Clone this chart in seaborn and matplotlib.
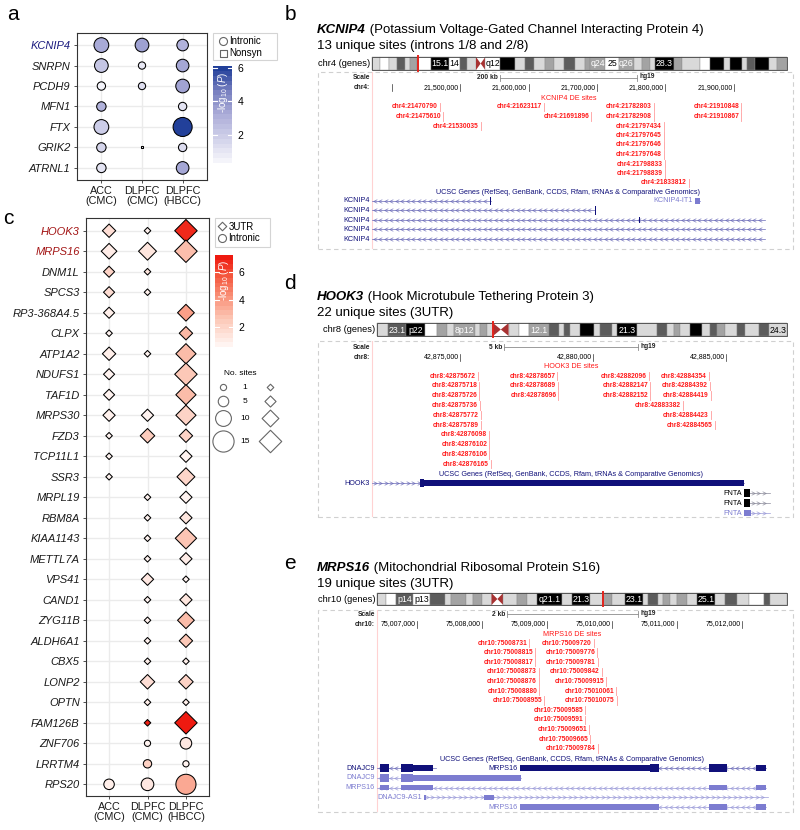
import numpy as np
import pandas as pd
import seaborn as sns
import matplotlib.pyplot as plt
from matplotlib.colors import LinearSegmentedColormap, Normalize
from matplotlib.cm import ScalarMappable
from matplotlib.patches import Rectangle, Polygon
from matplotlib.path import Path

plt.rcParams["font.family"] = ["Liberation Sans", "DejaVu Sans"]
plt.rcParams["mathtext.fontset"] = "custom"
plt.rcParams["mathtext.rm"] = "Liberation Sans"
plt.rcParams["mathtext.it"] = "Liberation Sans:italic"

nan = np.nan
W, H = 800, 830

tissues = ["ACC\n(CMC)", "DLPFC\n(CMC)", "DLPFC\n(HBCC)"]

# ---- a: intronic / nonsynonymous DE genes (No. sites, -log10 P per dataset)
a_genes = ["KCNIP4", "SNRPN", "PCDH9", "MFN1", "FTX", "GRIK2", "ATRNL1"]
a_n_acc = [9, 8, 3, 4, 9, 4, 4]
a_n_cmc = [8, 2, 2, nan, nan, 1, nan]
a_n_hbcc = [6, 7, 8, 3, 13, 3, 7]
a_p_acc = [3.3, 2.2, 0.35, 3.0, 1.9, 1.6, 1.0]
a_p_cmc = [3.6, 0.8, 1.2, nan, nan, 1.0, nan]
a_p_hbcc = [3.0, 3.4, 3.5, 1.0, 6.1, 1.3, 3.4]
a_nonsyn = [("GRIK2", 1)]
a_highlight = ["KCNIP4"]

# ---- c: 3'UTR / intronic DE genes
c_genes = ["HOOK3", "MRPS16", "DNM1L", "SPCS3", "RP3-368A4.5", "CLPX", "ATP1A2",
           "NDUFS1", "TAF1D", "MRPS30", "FZD3", "TCP11L1", "SSR3", "MRPL19", "RBM8A",
           "KIAA1143", "METTL7A", "VPS41", "CAND1", "ZYG11B", "ALDH6A1", "CBX5",
           "LONP2", "OPTN", "FAM126B", "ZNF706", "LRRTM4", "RPS20"]
c_n_acc = [7, 9, 5, 5, 5, 1, 7, 5, 5, 6, 1, 1, 1, nan, nan, nan, nan, nan, nan, nan,
           nan, nan, nan, nan, nan, nan, nan, 5]
c_n_cmc = [1, 11, 1, 1, nan, nan, 1, nan, nan, 6, 8, nan, nan, 1, 1, 1, 1, 6, 1, 1,
           1, 1, 8, 1, 1, 1, 3, 7]
c_n_hbcc = [15, 15, nan, nan, 10, 7, 13, 15, 13, 13, 7, 6, 11, 6, 6, 14, 6, 1, 6, 10,
            7, 1, 8, 1, 15, 6, 1, 14]
c_p_acc = [1.5, 0.9, 2.0, 1.6, 0.8, 0.6, 0.8, 0.6, 0.6, 0.7, 0.6, 0.55, 0.55, nan,
           nan, nan, nan, nan, nan, nan, nan, nan, nan, nan, nan, nan, nan, 0.8]
c_p_cmc = [0.7, 1.2, 1.2, 0.7, nan, nan, 0.6, nan, nan, 0.6, 2.3, nan, nan, 0.6, 0.6,
           0.6, 0.6, 1.1, 0.6, 0.7, 0.7, 0.8, 1.5, 0.8, 7.1, 0.6, 2.1, 1.1]
c_p_hbcc = [6.9, 2.8, nan, nan, 3.8, 3.0, 2.9, 2.5, 2.9, 2.0, 2.0, 0.6, 1.9, 0.6, 1.2,
            2.6, 0.9, 0.6, 1.2, 2.9, 2.5, 0.8, 2.0, 0.8, 7.24, 1.1, 0.6, 3.5]
c_intronic = ["ZNF706", "LRRTM4", "RPS20"]
c_highlight = ["HOOK3", "MRPS16"]
size_keys = [1, 5, 10, 15]

# ---- b, d, e: DE sites in UCSC browser views (hg19)
b_sites = [21470790, 21475610, 21530035, 21623117, 21691896, 21782803, 21782908,
           21797434, 21797645, 21797646, 21797648, 21798833, 21798839, 21833812,
           21910848, 21910867]
d_sites = [42875672, 42875718, 42875726, 42875736, 42875772, 42875789, 42876098,
           42876102, 42876106, 42876165, 42878657, 42878689, 42878696, 42882096,
           42882147, 42882152, 42883382, 42884354, 42884392, 42884419, 42884423,
           42884565]
e_sites = [75008731, 75008815, 75008817, 75008873, 75008876, 75008880, 75008955,
           75009585, 75009591, 75009651, 75009665, 75009720, 75009776, 75009781,
           75009784, 75009842, 75009915, 75010061, 75010075]

b_view = ("chr4", 21371500, 21945300)
d_view = ("chr8", 42871690, 42886650)
e_view = ("chr10", 75006385, 75012400)
b_scale_kb, d_scale_kb, e_scale_kb = 200, 5, 2
b_tick, d_tick, e_tick = 100000, 5000, 1000

# gene tracks: (row, name, kind, strand, start, end, blocks[(start, end, c=coding/u=utr)])
b_tracks = [
    (0, "KCNIP4", "main", "-", 20730234, 21545000, [(21544300, 21545000, "c")]),
    (0, "KCNIP4-IT1", "alt", "+", 21843000, 21850500, [(21843000, 21850500, "u")]),
    (1, "KCNIP4", "main", "-", 20730234, 21697700, [(21697000, 21697700, "c")]),
    (2, "KCNIP4", "main", "-", 20730234, 21950300, [(21761600, 21762300, "u")]),
    (3, "KCNIP4", "main", "-", 20730234, 21950300, []),
    (4, "KCNIP4", "main", "-", 20730234, 21950300, []),
]
d_tracks = [
    (0, "HOOK3", "main", "+", 42752044, 42885682,
     [(42873490, 42873640, "c"), (42873640, 42885682, "u")]),
    (1, "FNTA", "known", "+", 42885690, 42924000, [(42885690, 42885900, "c")]),
    (2, "FNTA", "known", "+", 42885690, 42924000, [(42885690, 42885900, "c")]),
    (3, "FNTA", "alt", "+", 42885690, 42924000, [(42885690, 42885950, "u")]),
]
e_tracks = [
    (0, "DNAJC9", "main", "-", 75002587, 75007294,
     [(75006431, 75006570, "c"), (75006754, 75006939, "c"), (75006939, 75007246, "u")]),
    (0, "MRPS16", "main", "-", 75008584, 75012370,
     [(75008584, 75010584, "u"), (75010584, 75010722, "c"), (75011491, 75011768, "c"),
      (75012214, 75012370, "u")]),
    (1, "DNAJC9", "alt", "-", 75002587, 75008600,
     [(75006431, 75006570, "c"), (75006754, 75006939, "c"), (75006939, 75008600, "u")]),
    (2, "MRPS16", "alt", "-", 75002587, 75012370,
     [(75006431, 75006570, "u"), (75006754, 75007246, "u"), (75011491, 75011768, "u"),
      (75012214, 75012370, "u")]),
    (3, "DNAJC9-AS1", "alt", "+", 75007110, 75013000,
     [(75007110, 75007135, "u"), (75008031, 75008185, "u")]),
    (4, "MRPS16", "alt", "-", 75008584, 75012370,
     [(75008584, 75010722, "u"), (75011491, 75011768, "u"), (75012214, 75012370, "u")]),
]

# cytobands (relative width, stain 0-4 or "cen", label)
chr4_bands = [(25, 1, ""), (25, 0, ""), (25, 1, ""), (25, 3, ""), (15, 1, ""), (20, 2, ""),
              (42, 0, ""), (53, 4, "15.1"), (35, 0, "14"), (20, 3, ""), (27, 1, ""),
              (28, "cen", ""), (45, 0, "q12"), (45, 4, ""), (30, 1, ""), (25, 3, ""),
              (35, 1, ""), (25, 2, ""), (30, 1, ""), (35, 3, ""), (30, 1, ""), (15, 2, ""),
              (45, 2, "q24"), (40, 0, "25"), (45, 2, "q26"), (25, 1, ""), (25, 2, ""),
              (15, 1, ""), (55, 4, "28.3"), (25, 2, ""), (55, 1, ""), (30, 0, ""),
              (40, 4, ""), (20, 1, ""), (35, 4, ""), (15, 1, ""), (25, 3, ""), (40, 4, ""),
              (25, 1, ""), (30, 2, "")]
chr8_bands = [(32, 1, ""), (56, 3, "23.1"), (57, 4, "p22"), (35, 0, ""), (30, 2, ""),
              (20, 1, ""), (65, 2, "8p12"), (15, 1, ""), (20, 2, ""), (18, 1, ""),
              (47, "cen", ""), (30, 1, ""), (30, 0, ""), (60, 2, "12.1"), (30, 3, ""),
              (15, 1, ""), (20, 3, ""), (30, 1, ""), (40, 4, ""), (20, 1, ""), (35, 3, ""),
              (15, 1, ""), (60, 4, "21.3"), (60, 1, ""), (30, 3, ""), (20, 1, ""),
              (20, 2, ""), (30, 1, ""), (35, 4, ""), (25, 1, ""), (20, 3, ""), (25, 2, ""),
              (35, 1, ""), (25, 3, ""), (40, 1, ""), (30, 3, ""), (55, 1, "24.3")]
chr10_bands = [(28, 1, ""), (30, 0, ""), (50, 3, "p14"), (50, 0, "p13"), (45, 3, ""),
               (20, 1, ""), (45, 2, ""), (20, 1, ""), (25, 2, ""), (30, 1, ""),
               (35, "cen", ""), (40, 1, ""), (30, 2, ""), (32, 1, ""), (73, 4, "q21.1"),
               (30, 1, ""), (55, 4, "21.3"), (40, 1, ""), (25, 2, ""), (40, 1, ""),
               (55, 4, "23.1"), (15, 1, ""), (30, 3, ""), (15, 1, ""), (20, 2, ""),
               (20, 1, ""), (30, 2, ""), (30, 1, ""), (55, 4, "25.1"), (30, 1, ""),
               (35, 3, ""), (35, 1, ""), (45, 0, ""), (20, 3, ""), (50, 1, "")]
chr4_mark, chr8_mark, chr10_mark = 0.111, 0.283, 0.550

# ---------------------------------------------------------------- helpers
DIAMOND = Path([(0, 1), (1, 0), (0, -1), (-1, 0), (0, 1)],
               [Path.MOVETO, Path.LINETO, Path.LINETO, Path.LINETO, Path.CLOSEPOLY])
SHAPES = {"Intronic": ("o", 1.0), "3UTR": (DIAMOND, 1.06), "Nonsyn": ("s", 0.45)}
CHEV = {"-": Path([(1, 1), (-1, 0), (1, -1)], [Path.MOVETO, Path.LINETO, Path.LINETO]),
        "+": Path([(-1, 1), (1, 0), (-1, -1)], [Path.MOVETO, Path.LINETO, Path.LINETO])}
TRACK_COL = {"main": "#10107a", "known": "#000000", "alt": "#7c7cd0"}
LINE_COL = {"main": "#6a6ab8", "known": "#8a8a9a", "alt": "#9a9ad8"}
STAIN = {0: "#ffffff", 1: "#d9d9d9", 2: "#a3a3a3", 3: "#5c5c5c", 4: "#000000"}


def area(n, k=1.0):
    return (0.72 * (6.2 + 1.07 * (n - 1)) * k) ** 2


def axes_px(l, t, r, b):
    return [l / W, 1 - b / H, (r - l) / W, (b - t) / H]


def long_table(genes, n_cols, p_cols, kind_of):
    rows = []
    for j, (ns, ps) in enumerate(zip(n_cols, p_cols)):
        for i, g in enumerate(genes):
            if not np.isnan(ns[i]):
                rows.append({"gene": g, "row": i, "col": j, "n": ns[i], "p": ps[i],
                             "kind": kind_of(g, j)})
    return pd.DataFrame(rows)


a_df = long_table(a_genes, [a_n_acc, a_n_cmc, a_n_hbcc], [a_p_acc, a_p_cmc, a_p_hbcc],
                  lambda g, j: "Nonsyn" if (g, j) in a_nonsyn else "Intronic")
c_df = long_table(c_genes, [c_n_acc, c_n_cmc, c_n_hbcc], [c_p_acc, c_p_cmc, c_p_hbcc],
                  lambda g, j: "Intronic" if g in c_intronic else "3UTR")

blue = LinearSegmentedColormap.from_list(
    "blue", [(0, "#f4f4fa"), (0.5, "#abacd8"), (0.75, "#7880c0"), (1, "#22409a")])
red = LinearSegmentedColormap.from_list(
    "red", [(0, "#fff4f1"), (0.3, "#fcc6b5"), (0.55, "#f99178"), (0.8, "#f4533a"),
            (1, "#ee1a10")])
a_norm = Normalize(a_df["p"].min(), a_df["p"].max())
c_norm = Normalize(c_df["p"].min(), c_df["p"].max())

fig = plt.figure(figsize=(W / 100, H / 100), dpi=100)
fig.patch.set_facecolor("white")

ov = fig.add_axes([0, 0, 1, 1])
ov.set_xlim(0, W)
ov.set_ylim(H, 0)
ov.axis("off")


def dot_panel(ax, df, genes, cmap, norm, highlight, hl_color, pad_top, pad_bot):
    for kind in df["kind"].unique():
        mk, k = SHAPES[kind]
        sns.scatterplot(data=df[df["kind"] == kind], x="col", y="row", hue="p",
                        palette=cmap, hue_norm=norm, size="n",
                        sizes={v: area(v, k) for v in range(1, 16)}, marker=mk,
                        edgecolor="black", linewidth=0.75, legend=False, ax=ax, zorder=3)
    ax.set_xlim(-0.6, 2.6)
    ax.set_ylim(len(genes) - 1 + pad_bot, -pad_top)
    ax.set_xticks(range(3), tissues)
    ax.set_yticks(range(len(genes)), genes)
    ax.set_xlabel("")
    ax.set_ylabel("")
    ax.grid(True, color="#ebebeb", lw=1.0)
    ax.set_axisbelow(True)
    for sp in ax.spines.values():
        sp.set_color("#333333")
        sp.set_linewidth(0.8)
    ax.tick_params(length=2.5, width=0.6, color="#333333", pad=2)
    ax.tick_params(axis="y", labelsize=8)
    ax.tick_params(axis="x", labelsize=7.8)
    for lab in ax.get_yticklabels():
        lab.set_fontstyle("italic")
        lab.set_color(hl_color if lab.get_text() in highlight else "#1a1a1a")
    for lab in ax.get_xticklabels():
        lab.set_linespacing(1.0)
        lab.set_color("#1a1a1a")


def colorbar(box, cmap, norm):
    cax = fig.add_axes(axes_px(*box))
    cb = fig.colorbar(ScalarMappable(norm=norm, cmap=cmap.resampled(20)), cax=cax)
    cb.outline.set_visible(False)
    cb.set_ticks([2, 4, 6])
    cax.tick_params(length=0, labelsize=7.5, pad=4)
    for t in [2, 4, 6]:
        cax.axhline(t, 0, 0.2, color="white", lw=0.8)
        cax.axhline(t, 0.8, 1, color="white", lw=0.8)
    cax.text(0.5, 0.73, r"-log$_{10}$ ($P$)", rotation=90, color="white", fontsize=7,
             ha="center", va="center", transform=cax.transAxes)


def key(x, y, marker, d, text, size=7):
    ov.scatter([x], [y], s=(0.72 * d) ** 2, marker=marker, fc="white", ec="#666666", lw=0.8)
    if text:
        ov.text(x + 6.5, y, text, fontsize=size, va="center", ha="left")


# ---------------------------------------------------------------- a
ax_a = fig.add_axes(axes_px(77, 33, 207, 180))
dot_panel(ax_a, a_df, a_genes, blue, a_norm, a_highlight, "#1c1c80", 0.59, 0.59)
colorbar((213, 66, 232, 163), blue, a_norm)
ov.add_patch(Rectangle((213, 33), 64, 27, fill=False, ec="#d4d4d4", lw=0.8))
key(222.5, 41.5, "o", 8, "Intronic")
key(222.5, 53, "s", 7, "Nonsyn")

# ---------------------------------------------------------------- c
ax_c = fig.add_axes(axes_px(86, 218, 209, 796))
dot_panel(ax_c, c_df, c_genes, red, c_norm, c_highlight, "#a31515", 0.62, 0.57)
colorbar((215, 255, 233, 347), red, c_norm)
ov.add_patch(Rectangle((215, 218), 55, 29, fill=False, ec="#d4d4d4", lw=0.8))
key(222, 226.5, DIAMOND, 8.5, "3UTR")
key(222, 238, "o", 8, "Intronic")
ov.text(240, 373, "No. sites", fontsize=6, ha="center", va="center")
for n, y in zip(size_keys, [387, 401, 418, 441]):
    key(223, y, "o", (6.2 + 1.07 * (n - 1)), "")
    key(270, y, DIAMOND, (6.2 + 1.07 * (n - 1)) * 1.06, "")
    ov.text(245, y, str(n), fontsize=6, ha="center", va="center")

for letter, x, y in [("a", 13, 15), ("b", 290, 15), ("c", 8, 218), ("d", 290, 283),
                     ("e", 290, 563)]:
    ov.text(x, y, letter, fontsize=15, ha="center", va="center")


# ---------------------------------------------------------------- b, d, e
def title(y, name, rest, line2):
    t = ov.text(317, y, name, fontsize=9.5, fontweight="bold", fontstyle="italic",
                va="center", ha="left")
    ov.annotate(rest, xy=(1, 0.5), xycoords=t, fontsize=9.5, va="center", ha="left")
    ov.text(317, y + 15.5, line2, fontsize=9.5, va="center", ha="left")


def ideogram(bands, mark, x0, x1, y0, y1, label):
    total = sum(b[0] for b in bands)
    x = x0
    ym = (y0 + y1) / 2
    for w, stain, name in bands:
        bw = w / total * (x1 - x0)
        if stain == "cen":
            ov.add_patch(Polygon([(x, y0), (x, y1), (x + bw / 2, ym)], fc="#a83232", lw=0))
            ov.add_patch(Polygon([(x + bw, y0), (x + bw, y1), (x + bw / 2, ym)],
                                 fc="#a83232", lw=0))
        else:
            ov.add_patch(Rectangle((x, y0), bw, y1 - y0, fc=STAIN[stain], ec="#8a8a8a",
                                   lw=0.3))
            if name:
                ov.text(x + bw / 2, ym + 0.5, name, fontsize=6.3, ha="center", va="center",
                        color="white" if stain >= 2 else "black")
        x += bw
    ov.add_patch(Rectangle((x0, y0), x1 - x0, y1 - y0, fill=False, ec="#444444", lw=0.6))
    xm = x0 + mark * (x1 - x0)
    ov.plot([xm, xm], [y0 - 1, y1 + 1], color="#e3221b", lw=1.4)
    ov.text(x0 - 2, ym, label, fontsize=6.7, ha="right", va="center")


def offset_label(ax, text, xy, dx, ha, **kw):
    ax.annotate(text, xy, xytext=(dx, 0), textcoords="offset pixels", ha=ha,
                va="center", **kw)


def browser(gene, view, scale_kb, tick_step, sites, tracks, lay):
    chrom, start, end = view
    bl, br = 318, 793
    wl, wr = lay["win"]
    bpp = (end - start) / (wr - wl)
    ax = fig.add_axes(axes_px(bl, lay["top"], br, lay["bottom"]))
    ax.set_xlim(start - (wl - bl) * bpp, end + (br - wr) * bpp)
    ax.set_ylim(lay["bottom"], lay["top"])
    ax.axis("off")
    ax.add_patch(Rectangle((0, 0), 1, 1, transform=ax.transAxes, fill=False,
                           ec="#d0d0d0", lw=0.8, ls=(0, (4, 3)), clip_on=False))
    ax.plot([start, start], [lay["top"], lay["bottom"]], color="#ffd2d2", lw=0.8)
    mid = (start + end) / 2
    small = dict(fontsize=4.8, fontweight="bold", color="#222222")

    # scale bar
    y = lay["scale_y"]
    half = scale_kb * 500
    ax.plot([mid - half, mid + half], [y, y], color="#8c8c8c", lw=0.6)
    for xx in (mid - half, mid + half):
        ax.plot([xx, xx], [y - 3, y + 3], color="#8c8c8c", lw=0.6)
    offset_label(ax, f"{scale_kb} kb", (mid - half, y), -2, "right", **small)
    offset_label(ax, "hg19", (mid + half, y - 1), 3, "left", **small)
    offset_label(ax, "Scale", (start, y), -2, "right", **small)

    # coordinate ruler
    y = lay["coord_y"]
    offset_label(ax, f"{chrom}:", (start, y), -2, "right", **small)
    for t in np.arange(np.ceil(start / tick_step) * tick_step, end, tick_step):
        ax.plot([t, t], [y - 3.5, y + 3.5], color="#333333", lw=0.5)
        lab = f"{int(t):,}"
        if ax.transData.transform((t, y))[0] - 3.5 * len(lab) > wl:
            offset_label(ax, lab, (t, y), -1.5, "right", fontsize=5, color="black")

    # DE sites, packed into rows like the browser does
    ax.text(mid, lay["de_y"], f"{gene} DE sites", fontsize=5.2, color="#ff1a1a",
            ha="center", va="center")
    ends = []
    for pos in sorted(sites):
        lab = f"{chrom}:{pos}"
        x = ax.transData.transform((pos, 0))[0]
        need = x - (4.1 * len(lab) + 4.2)
        r = next((i for i, e in enumerate(ends) if e <= need), len(ends))
        if r == len(ends):
            ends.append(x)
        else:
            ends[r] = x
        y = lay["site_y0"] + r * lay["site_dy"]
        ax.plot([pos, pos], [y - 4.2, y + 4.2], color="#ff9c9c", lw=0.6)
        offset_label(ax, lab, (pos, y), -2, "right", fontsize=4.8, fontweight="bold",
                     color="#ff1a1a")

    # gene models
    ax.text(mid, lay["ucsc_y"], "UCSC Genes (RefSeq, GenBank, CCDS, Rfam, tRNAs & "
            "Comparative Genomics)", fontsize=5.2, color="#10107a", ha="center",
            va="center")
    for row, name, kind, strand, s, e, blocks in tracks:
        y = lay["gene_y0"] + row * lay["gene_dy"]
        col = TRACK_COL[kind]
        a, b = max(s, start), min(e, end)
        ax.plot([a, b], [y, y], color=LINE_COL[kind], lw=0.5, zorder=2)
        step = 5.5 * bpp
        xs = np.arange(a + step / 2, b - step / 3, step)
        ax.plot(xs, np.full(len(xs), y), ls="none", marker=CHEV[strand], ms=2.6,
                mfc="none", mec=LINE_COL[kind], mew=0.45, zorder=2)
        for bs, be, bk in blocks:
            h = 8.5 if bk == "c" else 5.5
            ax.add_patch(Rectangle((bs, y - h / 2), max(be - bs, bpp), h, fc=col, lw=0,
                                   zorder=3))
        offset_label(ax, name, (a, y), -2, "right", fontsize=5.2, color=col)


title(30, "KCNIP4", " (Potassium Voltage-Gated Channel Interacting Protein 4)",
      "13 unique sites (introns 1/8 and 2/8)")
ideogram(chr4_bands, chr4_mark, 372, 787, 57, 70, "chr4 (genes)")
browser("KCNIP4", b_view, b_scale_kb, b_tick, b_sites, b_tracks,
        dict(top=72, bottom=249, win=(372, 765), scale_y=78, coord_y=88, de_y=98,
             site_y0=107, site_dy=9.5, ucsc_y=193, gene_y0=201, gene_dy=9.5))

title(297, "HOOK3", " (Hook Microtubule Tethering Protein 3)", "22 unique sites (3UTR)")
ideogram(chr8_bands, chr8_mark, 377, 787, 323, 336, "chr8 (genes)")
browser("HOOK3", d_view, d_scale_kb, d_tick, d_sites, d_tracks,
        dict(top=341, bottom=517, win=(372, 770), scale_y=347, coord_y=357, de_y=366,
             site_y0=376, site_dy=9.8, ucsc_y=474, gene_y0=483, gene_dy=10))

title(568, "MRPS16", " (Mitochondrial Ribosomal Protein S16)", "19 unique sites (3UTR)")
ideogram(chr10_bands, chr10_mark, 377, 787, 593, 605, "chr10 (genes)")
browser("MRPS16", e_view, e_scale_kb, e_tick, e_sites, e_tracks,
        dict(top=610, bottom=812, win=(377, 768), scale_y=614, coord_y=624, de_y=634,
             site_y0=643, site_dy=9.6, ucsc_y=759, gene_y0=768, gene_dy=9.75))

fig.savefig("out.png", dpi=100)
